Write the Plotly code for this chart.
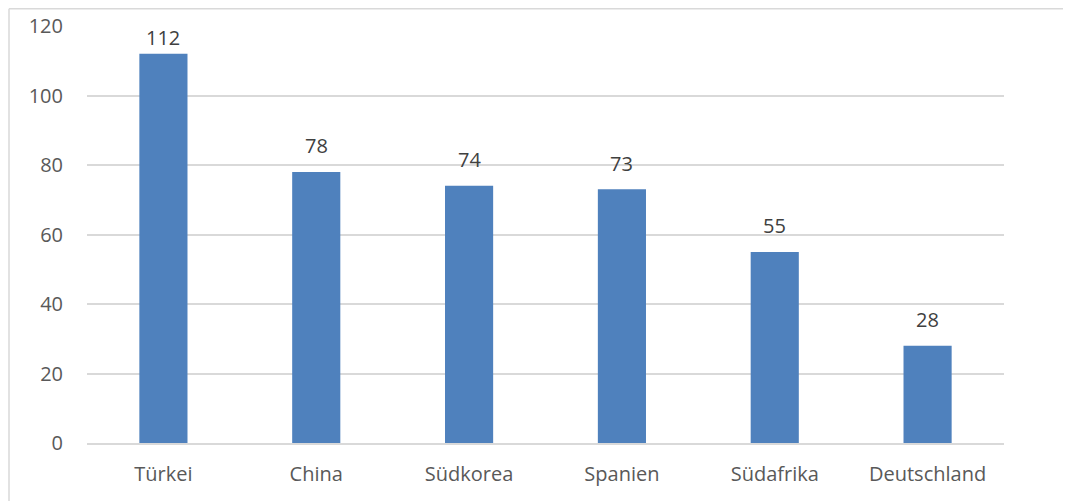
import plotly.graph_objects as go

categories = ["Türkei", "China", "Südkorea", "Spanien", "Südafrika", "Deutschland"]
values = [112, 78, 74, 73, 55, 28]
y_ticks = [0, 20, 40, 60, 80, 100, 120]

FS = 20
YMAX = 120
fig = go.Figure(go.Bar(
    x=categories, y=values,
    marker=dict(color="#4F81BD", line=dict(width=0)),
    width=0.315,
))

OFF = 8  # page body margin
L, R, T, B = 87, 1004, 26, 443
W, H = 1071, 501
pw, ph = R - L, B - T
def px_x(x): return (x - L) / pw
def px_y(y): return (B - y) / ph

annotations = []
for c, v in zip(categories, values):
    dist_top = (YMAX - v) * ph / YMAX
    shift = min(26, dist_top - 12)
    annotations.append(dict(x=c, y=v, xref="x", yref="y", text=str(v), showarrow=False,
                            yanchor="middle", yshift=shift,
                            font=dict(color="#404040", size=FS, family="Open Sans")))

fig.update_layout(
    width=W, height=H,
    margin=dict(l=L - OFF, r=W + OFF - R, t=T - OFF, b=H + OFF - B, pad=0, autoexpand=False),
    paper_bgcolor="white", plot_bgcolor="white",
    showlegend=False,
    font=dict(family="Open Sans", color="#595959", size=FS),
    xaxis=dict(showgrid=False, showline=True, linecolor="#d9d9d9", linewidth=1.5,
               automargin=False,
               ticks="", tickfont=dict(size=FS, color="#595959"), ticklabelstandoff=12),
    yaxis=dict(range=[0, YMAX], tickvals=y_ticks, showgrid=True, gridcolor="#d9d9d9",
               gridwidth=1.5, zeroline=False, showline=False, ticks="", automargin=False,
               tickfont=dict(size=FS, color="#595959"), ticklabelstandoff=23),
    annotations=annotations,
    shapes=[
        dict(type="line", xref="paper", yref="paper", x0=px_x(9), x1=px_x(9),
             y0=px_y(8.75), y1=px_y(520), line=dict(color="#d9d9d9", width=1.5)),
        dict(type="line", xref="paper", yref="paper", x0=px_x(9), x1=px_x(1090),
             y0=px_y(8.75), y1=px_y(8.75), line=dict(color="#d9d9d9", width=1.5)),
    ],
)

fig.write_html("out.html")
